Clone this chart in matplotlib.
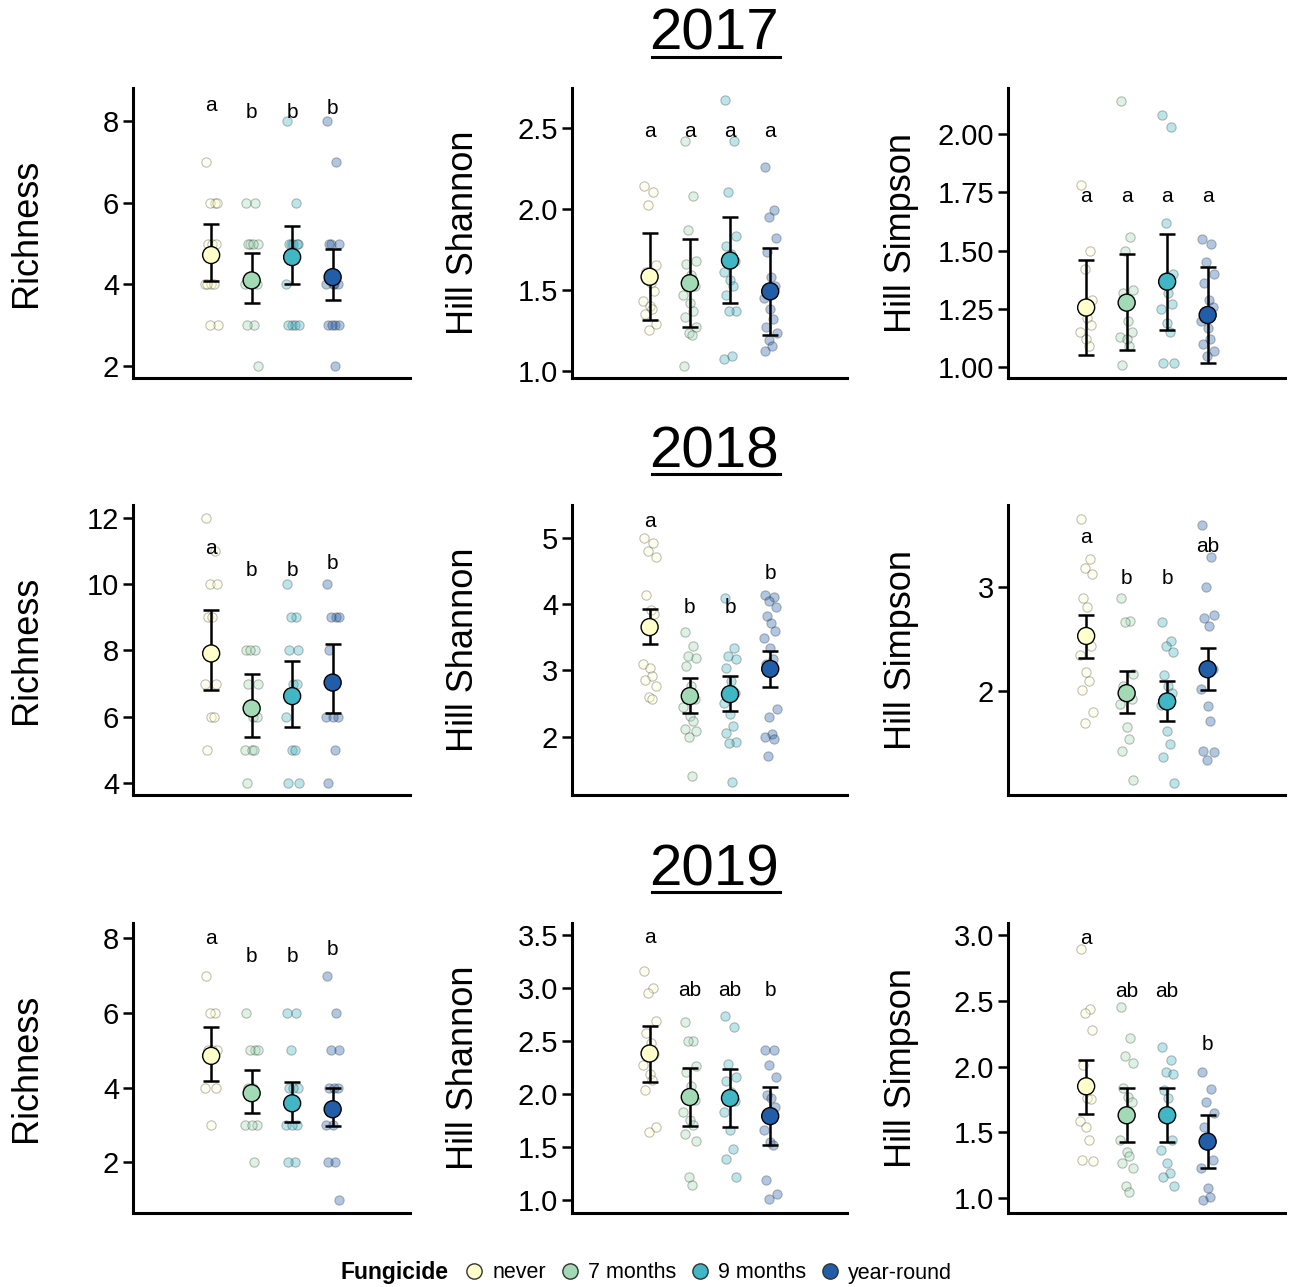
import matplotlib.pyplot as plt
import numpy as np
from matplotlib.lines import Line2D
from matplotlib.colors import to_rgba

plt.rcParams['font.family'] = ['Liberation Sans', 'DejaVu Sans']

groups = ['never', '7 months', '9 months', 'year-round']
colors = ['#FFFFCC', '#A1DAB4', '#41B6C4', '#225EA8']
years = ['2017', '2018', '2019']
metrics = ['Richness', 'Hill Shannon', 'Hill Simpson']

# ---- 2017 ----
rich_2017 = [[7, 6, 6, 6, 5, 5, 5, 4, 4, 4, 4, 3, 3],
             [6, 6, 5, 5, 5, 5, 4, 4, 4, 3, 3, 2],
             [8, 6, 5, 5, 5, 5, 5, 4, 3, 3, 3, 3],
             [8, 7, 5, 5, 5, 4, 4, 4, 4, 3, 3, 3, 3, 2]]
rich_2017_mean = [4.72, 4.10, 4.67, 4.18]
rich_2017_lo = [4.08, 3.55, 4.02, 3.61]
rich_2017_hi = [5.49, 4.77, 5.43, 4.86]
rich_2017_let = ['a', 'b', 'b', 'b']
rich_2017_lety = [8.39, 8.21, 8.21, 8.31]

shan_2017 = [[2.14, 2.10, 2.02, 1.65, 1.61, 1.54, 1.49, 1.43, 1.40, 1.38, 1.35, 1.29, 1.25],
             [2.42, 2.08, 1.87, 1.68, 1.66, 1.59, 1.52, 1.47, 1.42, 1.37, 1.33, 1.27, 1.23, 1.22, 1.03],
             [2.67, 2.42, 2.10, 1.83, 1.77, 1.72, 1.68, 1.61, 1.56, 1.52, 1.47, 1.37, 1.37, 1.09, 1.07],
             [2.26, 1.99, 1.95, 1.82, 1.73, 1.58, 1.52, 1.45, 1.38, 1.32, 1.27, 1.23, 1.19, 1.15, 1.12]]
shan_2017_mean = [1.58, 1.54, 1.68, 1.49]
shan_2017_lo = [1.31, 1.27, 1.42, 1.22]
shan_2017_hi = [1.85, 1.81, 1.95, 1.76]
shan_2017_let = ['a', 'a', 'a', 'a']
shan_2017_lety = [2.475, 2.475, 2.475, 2.475]

simp_2017 = [[1.78, 1.50, 1.42, 1.29, 1.27, 1.21, 1.18, 1.15, 1.12, 1.09],
             [2.14, 1.56, 1.50, 1.33, 1.32, 1.20, 1.15, 1.13, 1.12, 1.09, 1.01],
             [2.08, 2.03, 1.62, 1.40, 1.37, 1.32, 1.27, 1.25, 1.19, 1.15, 1.02, 1.02],
             [1.55, 1.53, 1.45, 1.40, 1.36, 1.29, 1.26, 1.20, 1.17, 1.12, 1.10, 1.07, 1.05]]
simp_2017_mean = [1.256, 1.277, 1.367, 1.224]
simp_2017_lo = [1.053, 1.074, 1.16, 1.02]
simp_2017_hi = [1.46, 1.486, 1.571, 1.43]
simp_2017_let = ['a', 'a', 'a', 'a']
simp_2017_lety = [1.73, 1.73, 1.73, 1.73]

# ---- 2018 ----
rich_2018 = [[12, 11, 10, 10, 9, 9, 7, 7, 6, 6, 5],
             [8, 8, 8, 7, 7, 6, 6, 5, 5, 5, 4],
             [10, 9, 9, 8, 8, 7, 7, 6, 5, 5, 4, 4],
             [10, 9, 9, 9, 8, 7, 6, 6, 6, 5, 4]]
rich_2018_mean = [7.91, 6.25, 6.62, 7.03]
rich_2018_lo = [6.80, 5.37, 5.69, 6.10]
rich_2018_hi = [9.22, 7.28, 7.68, 8.20]
rich_2018_let = ['a', 'b', 'b', 'b']
rich_2018_lety = [11.09, 10.42, 10.42, 10.62]

shan_2018 = [[5.0, 4.91, 4.79, 4.71, 4.14, 3.91, 3.84, 3.09, 3.04, 2.91, 2.86, 2.76, 2.59, 2.57],
             [3.57, 3.36, 3.22, 3.19, 3.07, 2.76, 2.56, 2.44, 2.31, 2.24, 2.11, 2.09, 1.99, 1.40],
             [4.09, 3.34, 3.21, 3.17, 3.04, 2.84, 2.66, 2.50, 2.34, 2.16, 2.06, 1.92, 1.90, 1.32],
             [4.14, 4.10, 4.04, 3.96, 3.81, 3.71, 3.59, 3.49, 3.34, 3.17, 3.09, 2.41, 2.29, 2.04, 2.00, 1.96, 1.71]]
shan_2018_mean = [3.65, 2.61, 2.64, 3.02]
shan_2018_lo = [3.39, 2.36, 2.38, 2.75]
shan_2018_hi = [3.92, 2.88, 2.91, 3.29]
shan_2018_let = ['a', 'b', 'b', 'b']
shan_2018_lety = [5.24, 3.95, 3.95, 4.46]

simp_2018 = [[3.66, 3.27, 3.18, 3.13, 2.90, 2.81, 2.43, 2.35, 2.18, 2.10, 2.01, 1.80, 1.69],
             [2.90, 2.67, 2.66, 2.16, 2.05, 1.99, 1.92, 1.88, 1.65, 1.54, 1.42, 1.14],
             [2.66, 2.48, 2.43, 2.38, 2.15, 2.05, 1.98, 1.87, 1.62, 1.49, 1.37, 1.12],
             [3.60, 3.29, 3.00, 2.73, 2.70, 2.63, 2.21, 2.02, 1.86, 1.71, 1.42, 1.41, 1.34]]
simp_2018_mean = [2.53, 1.98, 1.90, 2.21]
simp_2018_lo = [2.32, 1.79, 1.71, 2.01]
simp_2018_hi = [2.73, 2.19, 2.10, 2.41]
simp_2018_let = ['a', 'b', 'b', 'ab']
simp_2018_lety = [3.48, 3.08, 3.08, 3.39]

# ---- 2019 ----
rich_2019 = [[7, 6, 6, 5, 5, 5, 4, 4, 3],
             [6, 5, 5, 5, 4, 4, 3, 3, 3, 2],
             [6, 6, 5, 4, 4, 4, 3, 3, 3, 2, 2],
             [7, 6, 5, 5, 4, 4, 4, 3, 3, 2, 2, 1]]
rich_2019_mean = [4.85, 3.85, 3.58, 3.42]
rich_2019_lo = [4.18, 3.33, 3.08, 2.96]
rich_2019_hi = [5.63, 4.47, 4.14, 3.98]
rich_2019_let = ['a', 'b', 'b', 'b']
rich_2019_lety = [8.0, 7.51, 7.51, 7.71]

shan_2019 = [[3.16, 3.00, 2.95, 2.69, 2.57, 2.48, 2.38, 2.27, 2.19, 2.13, 2.04, 1.69, 1.64],
             [2.68, 2.50, 2.50, 2.26, 2.21, 2.07, 1.94, 1.83, 1.75, 1.71, 1.62, 1.56, 1.22, 1.14],
             [2.73, 2.63, 2.28, 2.16, 2.12, 2.02, 1.93, 1.83, 1.66, 1.48, 1.39, 1.22],
             [2.41, 2.41, 2.27, 2.16, 1.99, 1.96, 1.88, 1.66, 1.55, 1.52, 1.19, 1.06, 1.01]]
shan_2019_mean = [2.38, 1.97, 1.96, 1.79]
shan_2019_lo = [2.11, 1.70, 1.69, 1.52]
shan_2019_hi = [2.64, 2.24, 2.23, 2.06]
shan_2019_let = ['a', 'ab', 'ab', 'b']
shan_2019_lety = [3.47, 2.97, 2.97, 2.97]

simp_2019 = [[2.89, 2.44, 2.41, 2.28, 2.01, 1.76, 1.75, 1.59, 1.54, 1.44, 1.29, 1.28],
             [2.45, 2.22, 2.08, 2.03, 1.84, 1.77, 1.73, 1.44, 1.35, 1.32, 1.27, 1.23, 1.09, 1.05],
             [2.15, 2.05, 1.96, 1.94, 1.82, 1.76, 1.44, 1.37, 1.27, 1.19, 1.16, 1.09],
             [1.96, 1.83, 1.73, 1.65, 1.54, 1.42, 1.29, 1.23, 1.08, 1.01, 0.99]]
simp_2019_mean = [1.85, 1.63, 1.63, 1.43]
simp_2019_lo = [1.64, 1.43, 1.43, 1.23]
simp_2019_hi = [2.05, 1.84, 1.84, 1.63]
simp_2019_let = ['a', 'ab', 'ab', 'b']
simp_2019_lety = [2.97, 2.57, 2.57, 2.17]

# axis limits / ticks per panel (row = year, col = metric)
ylims = [[(1.71, 8.81), (0.955, 2.745), (0.954, 2.197)],
         [(3.63, 12.40), (1.12, 5.49), (1.0, 3.79)],
         [(0.64, 8.41), (0.877, 3.61), (0.888, 3.09)]]
yticks = [[[2, 4, 6, 8], [1.0, 1.5, 2.0, 2.5], [1.0, 1.25, 1.5, 1.75, 2.0]],
          [[4, 6, 8, 10, 12], [2, 3, 4, 5], [2, 3]],
          [[2, 4, 6, 8], [1.0, 1.5, 2.0, 2.5, 3.0, 3.5], [1.0, 1.5, 2.0, 2.5, 3.0]]]
yfmt = [['{:.0f}', '{:.1f}', '{:.2f}'],
        ['{:.0f}', '{:.0f}', '{:.0f}'],
        ['{:.0f}', '{:.1f}', '{:.1f}']]

panels = [
    [(rich_2017, rich_2017_mean, rich_2017_lo, rich_2017_hi, rich_2017_let, rich_2017_lety),
     (shan_2017, shan_2017_mean, shan_2017_lo, shan_2017_hi, shan_2017_let, shan_2017_lety),
     (simp_2017, simp_2017_mean, simp_2017_lo, simp_2017_hi, simp_2017_let, simp_2017_lety)],
    [(rich_2018, rich_2018_mean, rich_2018_lo, rich_2018_hi, rich_2018_let, rich_2018_lety),
     (shan_2018, shan_2018_mean, shan_2018_lo, shan_2018_hi, shan_2018_let, shan_2018_lety),
     (simp_2018, simp_2018_mean, simp_2018_lo, simp_2018_hi, simp_2018_let, simp_2018_lety)],
    [(rich_2019, rich_2019_mean, rich_2019_lo, rich_2019_hi, rich_2019_let, rich_2019_lety),
     (shan_2019, shan_2019_mean, shan_2019_lo, shan_2019_hi, shan_2019_let, shan_2019_lety),
     (simp_2019, simp_2019_mean, simp_2019_lo, simp_2019_hi, simp_2019_let, simp_2019_lety)],
]

# fixed horizontal spread pattern for the raw points
spread = [-0.13, 0.09, -0.04, 0.15, -0.09, 0.03, 0.12, -0.16, 0.0, 0.07, -0.11, 0.16, -0.02, 0.05, -0.14, 0.1, -0.06]

W, H = 1291, 1287
fig = plt.figure(figsize=(W / 100, H / 100), dpi=100)

col_px = [(133, 410), (572, 847), (1008, 1285)]
row_px = [(88, 378), (505, 795), (923, 1213)]
ylab_x = [-0.383, -0.396, -0.383]

for r in range(3):
    top, bot = row_px[r]
    for c in range(3):
        left, right = col_px[c]
        ax = fig.add_axes([left / W, 1 - bot / H, (right - left) / W, (bot - top) / H])
        pts, mean, lo, hi, lets, lety = panels[r][c]
        for g in range(4):
            vals = pts[g]
            xs = [g + 1 + spread[i % len(spread)] for i in range(len(vals))]
            ax.scatter(xs, vals, s=45, facecolor=to_rgba(colors[g], 0.35),
                       edgecolor=(0, 0, 0, 0.25), linewidth=0.8, zorder=2)
        x = np.arange(1, 5)
        mean = np.array(mean)
        ax.errorbar(x, mean, yerr=[mean - np.array(lo), np.array(hi) - mean], fmt='none',
                    ecolor='black', elinewidth=1.8, capsize=6, capthick=1.8, zorder=3)
        ax.scatter(x, mean, s=150, c=colors, edgecolor='black', linewidth=1.0, zorder=4)
        for g in range(4):
            ax.text(g + 1, lety[g], lets[g], ha='center', va='center', fontsize=15)

        ax.set_xlim(-0.93, 5.91)
        ax.set_ylim(*ylims[r][c])
        ax.set_xticks([])
        ax.set_yticks(yticks[r][c])
        ax.set_yticklabels([yfmt[r][c].format(t) for t in yticks[r][c]])
        ax.tick_params(axis='y', labelsize=21, length=7, width=1.8, pad=3, colors='black')
        for s in ['top', 'right']:
            ax.spines[s].set_visible(False)
        for s in ['left', 'bottom']:
            ax.spines[s].set_linewidth(2.2)
        ax.set_ylabel(metrics[c], fontsize=26, va='center')
        ax.yaxis.set_label_coords(ylab_x[c], 0.5)

    # year heading, underlined
    yc = top - 53
    fig.text(714 / W, 1 - yc / H, years[r], ha='center', va='center', fontsize=42)
    fig.add_artist(Line2D([652 / W, 780 / W], [1 - (top - 31) / H] * 2,
                          transform=fig.transFigure, color='black', lw=2.2))

# legend
fig.text(340 / W, 1 - 1273 / H, 'Fungicide', ha='left', va='center',
         fontsize=16.5, fontweight='bold')
handles = [Line2D([], [], marker='o', linestyle='none', markersize=11,
                  markerfacecolor=colors[g], markeredgecolor='#333333', markeredgewidth=1.0)
           for g in range(4)]
fig.legend(handles, groups, loc='center left', bbox_to_anchor=(461 / W, 1 - 1273 / H),
           ncol=4, frameon=False, fontsize=15.5, handletextpad=0.25, columnspacing=0.5,
           handlelength=1.2, borderpad=0, borderaxespad=0)

fig.savefig('out.png', dpi=100)
